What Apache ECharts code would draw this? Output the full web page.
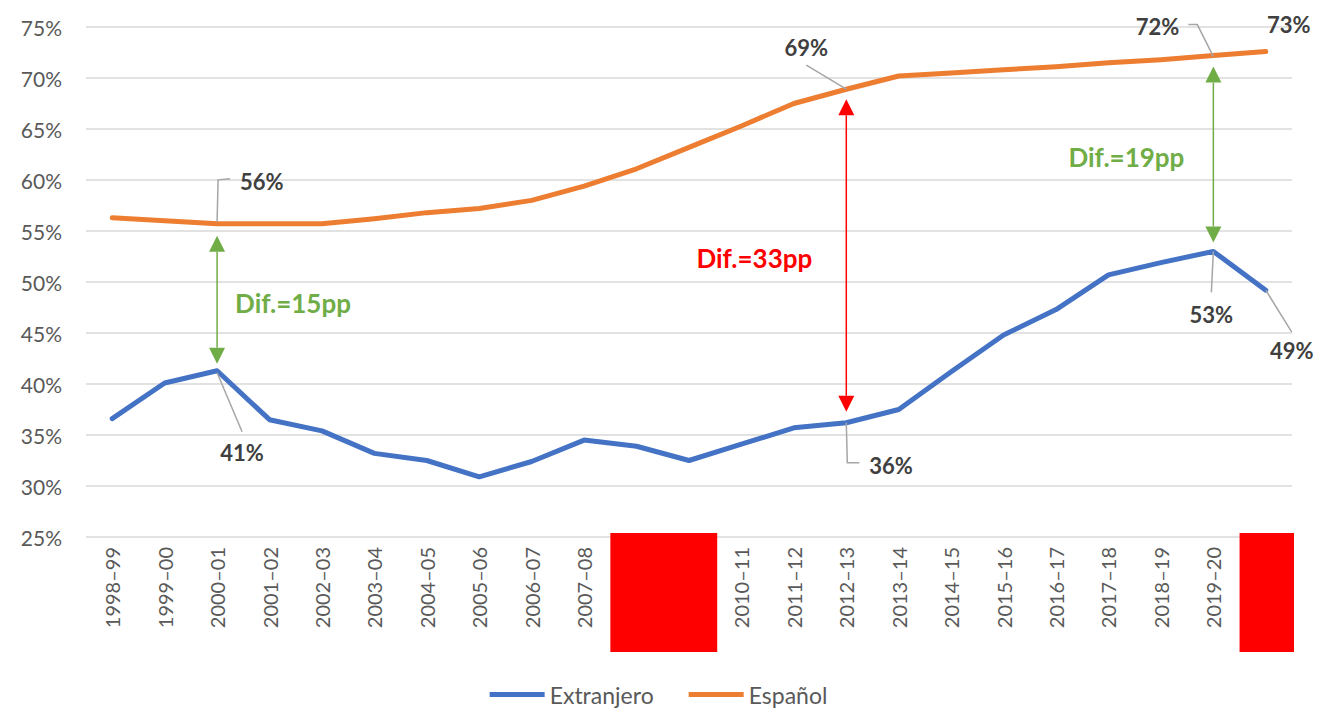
<!DOCTYPE html>
<html>
<head>
<meta charset="utf-8">
<script src="https://cdn.jsdelivr.net/npm/echarts@6/dist/echarts.min.js"></script>
<style>
  html, body { margin: 0; padding: 0; background: #fff; }
  #chart { width: 1317px; height: 709px; }
</style>
</head>
<body>
<div id="chart"></div>
<script>
var categories = ['1998-99', '1999-00', '2000-01', '2001-02', '2002-03', '2003-04', '2004-05', '2005-06',
  '2006-07', '2007-08', '2008-09', '2009-10', '2010-11', '2011-12', '2012-13', '2013-14', '2014-15',
  '2015-16', '2016-17', '2017-18', '2018-19', '2019-20', '2020-21'];
var extranjero = [36.6, 40.1, 41.3, 36.5, 35.4, 33.2, 32.5, 30.9, 32.4, 34.5, 33.9, 32.5, 34.1, 35.7,
  36.2, 37.5, 41.2, 44.8, 47.3, 50.7, 51.9, 53.0, 49.2];
var espanol = [56.3, 56.0, 55.7, 55.7, 55.7, 56.2, 56.8, 57.2, 58.0, 59.4, 61.1, 63.2, 65.3, 67.5,
  68.9, 70.2, 70.5, 70.8, 71.1, 71.5, 71.8, 72.2, 72.6];
var yMin = 25, yMax = 75, yStep = 5;

// callout labels: which point, leader path and text offset (px) from it
var callouts = [
  { s: 'esp', i: 2, text: '56%', path: [[0, -2], [1, -44], [13, -45]], at: [23, -42], align: 'left' },
  { s: 'ext', i: 2, text: '41%', path: [[0, 2], [25, 61]], at: [25, 82], align: 'center' },
  { s: 'esp', i: 14, text: '69%', path: [[0, 0], [-40, -24]], at: [-40, -42], align: 'center' },
  { s: 'ext', i: 14, text: '36%', path: [[0, 0], [1, 40], [13, 40]], at: [23, 43], align: 'left' },
  { s: 'esp', i: 21, text: '72%', path: [[0, 1], [-16, -31], [-25, -31]], at: [-34, -29], align: 'right' },
  { s: 'esp', i: 22, text: '73%', path: null, at: [23, -27], align: 'center' },
  { s: 'ext', i: 21, text: '53%', path: [[0, 0], [-2, 41]], at: [-2, 63], align: 'center' },
  { s: 'ext', i: 22, text: '49%', path: [[0, 0], [26, 42]], at: [26, 60], align: 'center' }
];
// gap arrows between the two lines
var gaps = [
  { i: 2, text: 'Dif.=15pp', color: '#70AD47', pad: [12, 7], dx: 18, align: 'left' },
  { i: 14, text: 'Dif.=33pp', color: '#FF0000', pad: [10, 11], dx: -34, align: 'right' },
  { i: 21, text: 'Dif.=19pp', color: '#70AD47', pad: [11, 9], dx: -29, align: 'right' }
];
// category spans whose labels are covered by red boxes
var covered = [[10, 11], [22, 22]];

var font = 'Lato, "Noto Sans", sans-serif';
var chart = echarts.init(document.getElementById('chart'), null, { renderer: 'svg' });

chart.setOption({
  animation: false,
  grid: { left: 86, right: 25, top: 27, bottom: 172 },
  legend: {
    bottom: -2,
    left: 'center',
    icon: 'rect',
    itemWidth: 55,
    itemHeight: 5,
    itemGap: 35,
    textStyle: { color: '#595959', fontSize: 23, fontFamily: font }
  },
  xAxis: {
    type: 'category',
    data: categories,
    boundaryGap: true,
    axisLine: { show: false },
    axisTick: { show: false },
    axisLabel: {
      rotate: 90, interval: 0, margin: 10,
      color: '#595959', fontSize: 20, fontFamily: font,
      formatter: function(v) { return v.replace('-', '–'); }
    }
  },
  yAxis: {
    type: 'value',
    min: yMin, max: yMax, interval: yStep,
    axisLine: { show: false },
    axisTick: { show: false },
    axisLabel: { color: '#595959', fontSize: 21, fontFamily: font, margin: 24, formatter: '{value}%' },
    splitLine: { lineStyle: { color: '#D9D9D9', width: 1.5 } }
  },
  series: [
    {
      name: 'Extranjero', type: 'line', data: extranjero, symbol: 'none',
      lineStyle: { width: 5, color: '#4472C4', cap: 'round', join: 'round' },
      itemStyle: { color: '#4472C4' }
    },
    {
      name: 'Español', type: 'line', data: espanol, symbol: 'none',
      lineStyle: { width: 5, color: '#ED7D31', cap: 'round', join: 'round' },
      itemStyle: { color: '#ED7D31' }
    }
  ]
});

function px(i, v) { return chart.convertToPixel({ gridIndex: 0 }, [i, v]); }

var graphics = [];
callouts.forEach(function(c) {
  var p = px(c.i, c.s === 'esp' ? espanol[c.i] : extranjero[c.i]);
  if (c.path) {
    graphics.push({
      type: 'polyline', z: 10,
      shape: { points: c.path.map(function(o) { return [p[0] + o[0], p[1] + o[1]]; }) },
      style: { stroke: '#A6A6A6', lineWidth: 1.5, fill: null }
    });
  }
  graphics.push({
    type: 'text', z: 11, x: p[0] + c.at[0], y: p[1] + c.at[1],
    style: { text: c.text, fill: '#404040', font: 'bold 22px ' + font, align: c.align, verticalAlign: 'middle' }
  });
});

gaps.forEach(function(g) {
  var top = px(g.i, espanol[g.i]);
  var bot = px(g.i, extranjero[g.i]);
  var x = top[0], y1 = top[1] + g.pad[0], y2 = bot[1] - g.pad[1], h = 16, w = 8;
  graphics.push({
    type: 'line', z: 10,
    shape: { x1: x, y1: y1 + h, x2: x, y2: y2 - h },
    style: { stroke: g.color, lineWidth: 1.5 }
  });
  graphics.push({
    type: 'polygon', z: 10,
    shape: { points: [[x, y1], [x - w, y1 + h], [x + w, y1 + h]] },
    style: { fill: g.color }
  });
  graphics.push({
    type: 'polygon', z: 10,
    shape: { points: [[x, y2], [x - w, y2 - h], [x + w, y2 - h]] },
    style: { fill: g.color }
  });
  graphics.push({
    type: 'text', z: 11, x: x + g.dx, y: (y1 + y2) / 2 + 3,
    style: { text: g.text, fill: g.color, font: 'bold 26px ' + font, align: g.align, verticalAlign: 'middle' }
  });
});

var base = px(0, yMin)[1];
var step = px(1, yMin)[0] - px(0, yMin)[0];
covered.forEach(function(span) {
  var left = px(span[0], yMin)[0] - step / 2;
  var right = px(span[1], yMin)[0] + step / 2;
  graphics.push({
    type: 'rect', z: 20,
    shape: { x: left, y: base - 4, width: right - left + 2, height: 119 },
    style: { fill: '#FF0000' }
  });
});

chart.setOption({ graphic: graphics });
window.addEventListener('resize', function() { chart.resize(); });
</script>
</body>
</html>
